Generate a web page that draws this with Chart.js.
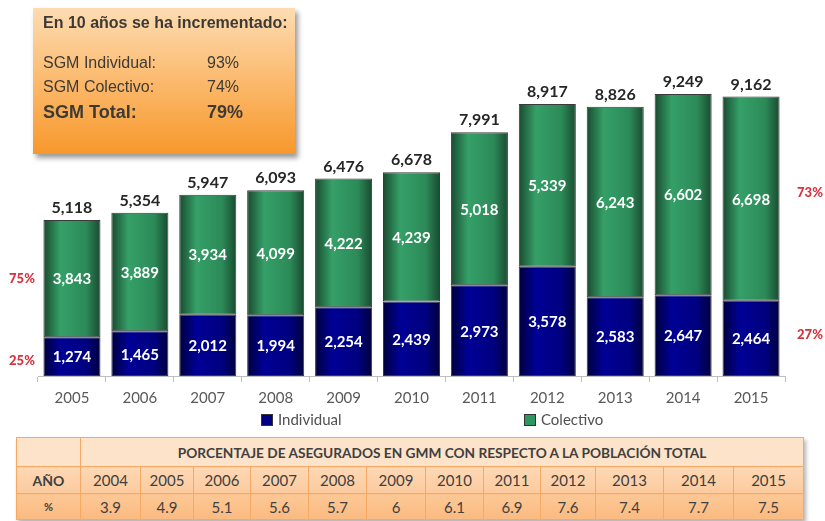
<!DOCTYPE html>
<html>
<head>
<meta charset="utf-8">
<script src="https://cdn.jsdelivr.net/npm/chart.js@4/dist/chart.umd.min.js"></script>
<style>
  body { margin: 0; background: #fff; width: 825px; height: 521px; overflow: hidden; position: relative; font-family: Lato, sans-serif; }
  #wrap { position: absolute; left: 0; top: 0; width: 825px; height: 420px; }
  .box { position: absolute; left: 33px; top: 8px; width: 262px; height: 146px;
    background: linear-gradient(#fddcb2, #fbb666 55%, #f7982c);
    box-shadow: 3px 4px 5px rgba(0,0,0,0.4); font-family: "Liberation Sans", Arial, sans-serif; color: #3d3a36; }
  .box div { position: absolute; white-space: nowrap; }
  .legend { position: absolute; top: 411px; height: 16px; font-size: 15px; color: #505050; line-height: 16px; }
  .legend i { display: inline-block; width: 10px; height: 10px; border: 1px solid #333; vertical-align: -1px; margin-right: 5px; }
  table { position: absolute; left: 16px; top: 437px; border-collapse: collapse; table-layout: fixed; width: 787px;
    box-shadow: 2px 3px 4px rgba(0,0,0,0.3); color: #404040; }
  td { border: 1px solid #f6a965; text-align: center; padding: 0; font-size: 15px; }
  tr.h td { background: #fde3ca; height: 28px; font-weight: bold; font-size: 13.7px; }
  tr.y td { background: linear-gradient(#fdd8b4, #fccb9e); height: 26px; }
  tr.p td { background: linear-gradient(#fcc896, #fbba80); height: 25px; }
  td.k { font-weight: bold; font-size: 14px; }
</style>
</head>
<body>
<div id="wrap"><canvas id="chart" width="825" height="420"></canvas></div>

<div class="box">
  <div style="left:10px;top:6px;font-weight:bold;font-size:16px;">En 10 años se ha incrementado:</div>
  <div id="b1" style="left:10px;top:46px;font-size:16px;"></div>
  <div id="b2" style="left:10px;top:70px;font-size:16px;"></div>
  <div id="b3" style="left:10px;top:94px;font-size:18px;font-weight:bold;"></div>
</div>

<div id="legend"></div>
<table id="tbl"></table>

<script>
const years = ["2005", "2006", "2007", "2008", "2009", "2010", "2011", "2012", "2013", "2014", "2015"];
const individual = [1274, 1465, 2012, 1994, 2254, 2439, 2973, 3578, 2583, 2647, 2464];
const colectivo = [3843, 3889, 3934, 4099, 4222, 4239, 5018, 5339, 6243, 6602, 6698];
const totals = [5118, 5354, 5947, 6093, 6476, 6678, 7991, 8917, 8826, 9249, 9162];
const shareFirst = ["25%", "75%"];
const shareLast = ["27%", "73%"];

const boxLabels = ["SGM Individual:", "SGM Colectivo:", "SGM Total:"];
const boxValues = ["93%", "74%", "79%"];

const tableTitle = "PORCENTAJE DE ASEGURADOS EN GMM CON RESPECTO A LA POBLACIÓN TOTAL";
const tableYears = ["2004", "2005", "2006", "2007", "2008", "2009", "2010", "2011", "2012", "2013", "2014", "2015"];
const tablePct = ["3.9", "4.9", "5.1", "5.6", "5.7", "6", "6.1", "6.9", "7.6", "7.4", "7.7", "7.5"];
const colWidths = [64, 60, 53, 57, 58, 58, 59, 58, 57, 55, 68, 70, 70];

const fmt = v => v.toLocaleString("en-US");

// orange box
["b1", "b2", "b3"].forEach((id, i) => {
  document.getElementById(id).innerHTML = boxLabels[i] + '<span style="position:absolute;left:164px">' + boxValues[i] + '</span>';
});

// table
let html = "<colgroup>" + colWidths.map(w => '<col style="width:' + w + 'px">').join("") + "</colgroup>";
html += '<tr class="h"><td></td><td colspan="' + tableYears.length + '">' + tableTitle + "</td></tr>";
html += '<tr class="y"><td class="k">AÑO</td>' + tableYears.map(y => "<td>" + y + "</td>").join("") + "</tr>";
html += '<tr class="p"><td class="k" style="font-size:11px">%</td>' + tablePct.map(p => "<td>" + p + "</td>").join("") + "</tr>";
document.getElementById("tbl").innerHTML = html;

// cylinder-ish shading across each bar
const shades = {
  Individual: ["#00003c", "#000096", "#000080", "#00003c"],
  Colectivo: ["#1a4a30", "#35a068", "#2c8a58", "#1a4a30"]
};
const barPct = 0.84;

function shade(ctx) {
  const chart = ctx.chart;
  const c = shades[ctx.dataset.label];
  const xs = chart.scales.x;
  if (!xs || !chart.chartArea || ctx.type !== "data") return c[1];
  const cx = xs.getPixelForValue(ctx.dataIndex);
  const w = xs.width / years.length * barPct;
  const g = chart.ctx.createLinearGradient(cx - w / 2, 0, cx + w / 2, 0);
  g.addColorStop(0, c[0]);
  g.addColorStop(0.3, c[1]);
  g.addColorStop(0.75, c[2]);
  g.addColorStop(1, c[3]);
  return g;
}

const labelPlugin = {
  id: "barLabels",
  afterDatasetsDraw(chart) {
    const ctx = chart.ctx;
    ctx.save();
    ctx.textAlign = "center";
    ctx.textBaseline = "middle";
    ctx.font = "bold 15px Lato";
    ctx.fillStyle = "#ffffff";
    chart.data.datasets.forEach((ds, di) => {
      chart.getDatasetMeta(di).data.forEach((bar, i) => {
        ctx.fillText(fmt(ds.data[i]), bar.x, (bar.y + bar.base) / 2 + 1);
      });
    });
    const top = chart.getDatasetMeta(1).data;
    ctx.font = "bold 16px Lato";
    ctx.fillStyle = "#262626";
    top.forEach((bar, i) => ctx.fillText(fmt(totals[i]), bar.x, bar.y - 12));

    // share of each segment at start and end
    ctx.font = "900 13px Lato";
    ctx.fillStyle = "#d9303a";
    [0, 1].forEach(di => {
      const meta = chart.getDatasetMeta(di).data;
      const a = meta[0], b = meta[meta.length - 1];
      ctx.fillText(shareFirst[di], 22, (a.y + a.base) / 2 + (di === 0 ? 4 : 0));
      ctx.fillText(shareLast[di], 810, (b.y + b.base) / 2 - (di === 0 ? 4 : 6));
    });
    ctx.restore();
  }
};

const chart = new Chart(document.getElementById("chart").getContext("2d"), {
  type: "bar",
  data: {
    labels: years,
    datasets: [
      { label: "Individual", data: individual, backgroundColor: shade, legendColor: "#000080" },
      { label: "Colectivo", data: colectivo, backgroundColor: shade, legendColor: "#2e9660" }
    ]
  },
  options: {
    responsive: false,
    animation: false,
    layout: { padding: { left: 38, right: 40, top: 71, bottom: 6 } },
    datasets: { bar: { barPercentage: barPct, categoryPercentage: 1, borderColor: "#3a3a3a", borderWidth: 1, borderSkipped: false } },
    plugins: { legend: { display: false }, tooltip: { enabled: false } },
    scales: {
      x: {
        stacked: true,
        grid: { drawOnChartArea: false, tickLength: 6, color: "#bfbfbf" },
        border: { color: "#bfbfbf" },
        ticks: { color: "#595959", font: { family: "Lato", size: 15 }, padding: 7 }
      },
      y: { stacked: true, display: false, min: 0, max: 10000 }
    }
  },
  plugins: [labelPlugin]
});

// legend from the datasets
const legendX = [261, 524];
document.getElementById("legend").innerHTML = chart.data.datasets.map((ds, i) =>
  '<div class="legend" style="left:' + legendX[i] + 'px"><i style="background:' + ds.legendColor + '"></i>' + ds.label + "</div>"
).join("");
</script>
</body>
</html>
